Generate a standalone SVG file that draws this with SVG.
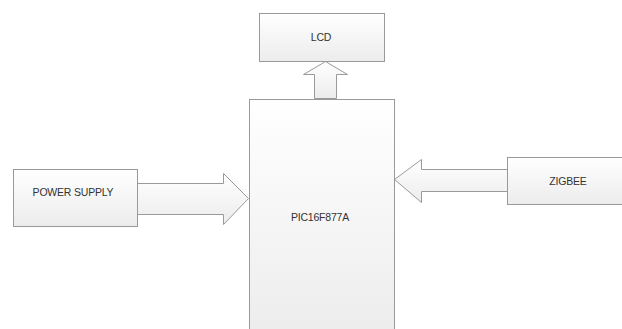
<svg xmlns="http://www.w3.org/2000/svg" width="622" height="329" viewBox="0 0 622 329">
<defs>
<linearGradient id="g" x1="0" y1="0" x2="0" y2="1">
<stop offset="0" stop-color="#ffffff"/>
<stop offset="1" stop-color="#ececec"/>
</linearGradient>
<style>
.box{fill:url(#g);stroke:#999999;stroke-width:1}
.arr{fill:url(#g);stroke:#9a9a9a;stroke-width:1}
.t{font-family:"Liberation Sans",Arial,sans-serif;font-size:10.5px;fill:#333333;text-anchor:middle;dominant-baseline:central;letter-spacing:-0.2px}
</style>
</defs>
<rect width="622" height="329" fill="#ffffff"/>
<g id="connectors">
<polygon class="arr" points="314.5,98.5 314.5,74.5 303.5,74.5 325.5,61.5 347.5,74.5 336.5,74.5 336.5,98.5"/>
<polygon class="arr" points="137.5,183.5 223.5,183.5 223.5,173.5 248.5,198.5 223.5,224.5 223.5,214.5 137.5,214.5"/>
<polygon class="arr" points="507.5,169.5 421.5,169.5 421.5,159.5 394.5,179.5 421.5,202.5 421.5,191.5 507.5,191.5"/>
</g>
<g id="lcd">
<rect class="box" x="259.5" y="13.5" width="125" height="48"/>
<text class="t" x="321" y="37">LCD</text>
</g>
<g id="pic">
<rect class="box" x="249.5" y="99.5" width="145" height="240"/>
<text class="t" x="320" y="217">PIC16F877A</text>
</g>
<g id="power">
<rect class="box" x="13.5" y="169.5" width="124" height="57"/>
<text class="t" x="73" y="192">POWER SUPPLY</text>
</g>
<g id="zigbee">
<rect class="box" x="507.5" y="157.5" width="120" height="47"/>
<text class="t" x="568" y="181">ZIGBEE</text>
</g>
</svg>
